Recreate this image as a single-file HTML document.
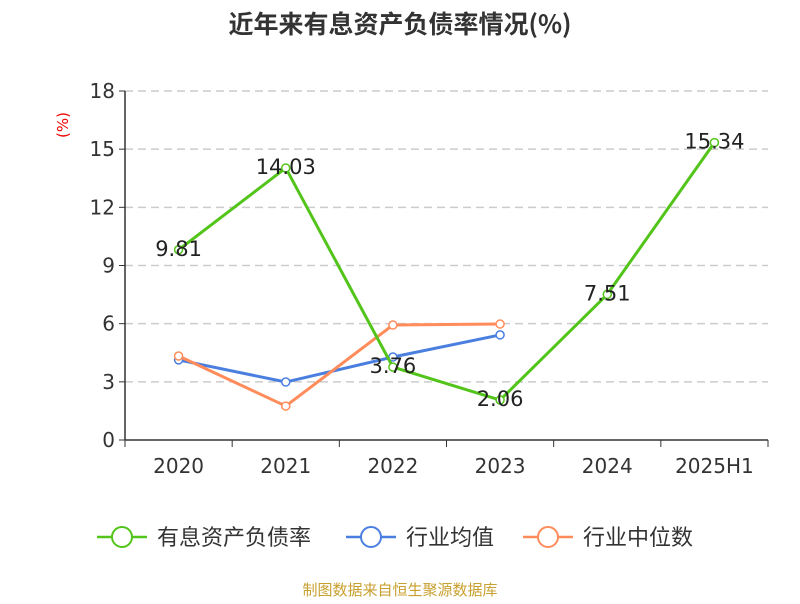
<!DOCTYPE html>
<html><head><meta charset="utf-8"><style>
body{margin:0;background:#fff;font-family:"DejaVu Sans","Noto Sans CJK SC",sans-serif}
</style></head><body>
<svg id="c" width="800" height="600" xmlns="http://www.w3.org/2000/svg" font-family="DejaVu Sans, Noto Sans CJK SC, sans-serif">
<text x="400" y="33" text-anchor="middle" font-size="25" font-weight="bold" fill="#333" font-family="Noto Sans CJK SC, sans-serif">近年来有息资产负债率情况(%)</text>
<text x="68" y="125" text-anchor="middle" font-size="15" fill="#e00" transform="rotate(-90 68 125)">(%)</text>
<g id="grid"></g><g id="axes"></g><g id="series"></g>
<g font-family="Noto Sans CJK SC, sans-serif">
<g><line x1="97" y1="537" x2="147" y2="537" stroke="#52c41a" stroke-width="2.5"/><circle cx="122" cy="537" r="10" fill="#fff" stroke="#52c41a" stroke-width="2"/><text x="157" y="545" font-size="22" fill="#333">有息资产负债率</text></g>
<g><line x1="346" y1="537" x2="396" y2="537" stroke="#4a7fe0" stroke-width="2.5"/><circle cx="371" cy="537" r="10" fill="#fff" stroke="#4a7fe0" stroke-width="2"/><text x="406" y="545" font-size="22" fill="#333">行业均值</text></g>
<g><line x1="523" y1="537" x2="573" y2="537" stroke="#ff8c5a" stroke-width="2.5"/><circle cx="548" cy="537" r="10" fill="#fff" stroke="#ff8c5a" stroke-width="2"/><text x="583" y="545" font-size="22" fill="#333">行业中位数</text></g>
</g>
<text x="400" y="595" text-anchor="middle" font-size="15" fill="#c8a030" font-family="Noto Sans CJK SC, sans-serif">制图数据来自恒生聚源数据库</text>
</svg>
<script>
const categories=["2020","2021","2022","2023","2024","2025H1"];
const debtRatio=[9.81,14.03,3.76,2.06,7.51,15.34];
const industryAvg=[4.13,2.99,4.28,5.42];
const industryMedian=[4.33,1.75,5.93,5.98];
const yTicks=[0,3,6,9,12,15,18];
const NS="http://www.w3.org/2000/svg";
const X0=125,X1=768,Y0=440,Y1=91,YMAX=18;
const bw=(X1-X0)/categories.length;
const xs=i=>X0+bw*(i+0.5);
const ys=v=>Y0-(v/YMAX)*(Y0-Y1);
function mk(tag,attrs,parent){const e=document.createElementNS(NS,tag);for(const k in attrs)e.setAttribute(k,attrs[k]);parent.appendChild(e);return e;}
const grid=document.getElementById('grid'),axes=document.getElementById('axes'),ser=document.getElementById('series');
yTicks.forEach(t=>{
  if(t>0){const g=mk('line',{x1:X0,x2:X1,y1:ys(t),y2:ys(t),stroke:'#ccc','stroke-dasharray':'8,5','stroke-width':1.5},grid);
  
  }
  const tk=mk('line',{x1:X0-6,x2:X0,y1:ys(t),y2:ys(t),stroke:'#333'},axes);
  
  
  const l=mk('text',{x:X0-10,y:ys(t)+7,'text-anchor':'end','font-size':20,fill:'#333'},axes);l.textContent=t;
  
  
});
const ya=mk('line',{x1:X0,x2:X0,y1:Y1,y2:Y0,stroke:'#333','stroke-width':1.5},axes);


const xa=mk('line',{x1:X0,x2:X1,y1:Y0,y2:Y0,stroke:'#333','stroke-width':1.5},axes);


for(let i=0;i<=categories.length;i++){const tk=mk('line',{x1:X0+bw*i,x2:X0+bw*i,y1:Y0,y2:Y0+7,stroke:'#333'},axes);
  
  }
categories.forEach((c,i)=>{const l=mk('text',{x:xs(i),y:473,'text-anchor':'middle','font-size':20,fill:'#333'},axes);l.textContent=c;
  
  });
function series(vals,color,name,labels){
  const g=mk('g',{},ser);
  
  
  const p=mk('polyline',{points:vals.map((v,i)=>xs(i)+','+ys(v)).join(' '),fill:'none',stroke:color,'stroke-width':3},g);
  
  
  vals.forEach((v,i)=>{const c=mk('circle',{cx:xs(i),cy:ys(v),r:4,fill:'#fff',stroke:color,'stroke-width':1.5},g);
    
    
    if(labels){const t=mk('text',{x:xs(i),y:ys(v)+6,'text-anchor':'middle','font-size':21,fill:'#222'},g);t.textContent=v.toFixed(2);
      
      }
  });
}
series(industryAvg,'#4a7fe0','industry-average-series',false);
series(industryMedian,'#ff8c5a','industry-median-series',false);
series(debtRatio,'#52c41a','debt-ratio-series',true);
</script>
</body></html>
